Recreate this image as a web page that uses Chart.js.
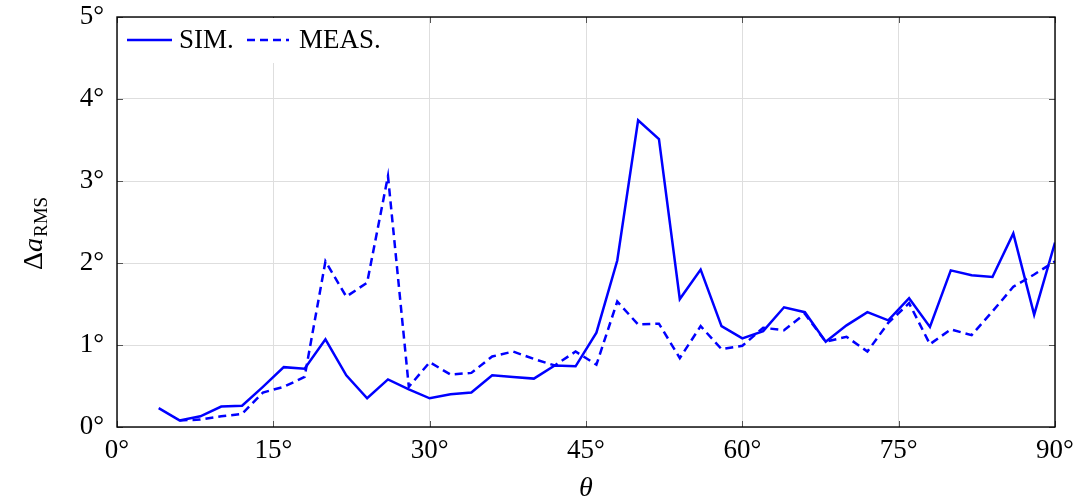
<!DOCTYPE html>
<html>
<head>
<meta charset="utf-8">
<script src="https://cdn.jsdelivr.net/npm/chart.js@4.4.1/dist/chart.umd.min.js"></script>
<style>
  body { margin: 0; background: #fff; }
  canvas { display: block; }
</style>
</head>
<body>
<canvas id="rmsChart" width="1081" height="503"></canvas>
<script>
// --- Data ---
const thetaDeg = [4, 6, 8, 10, 12, 14, 16, 18, 20, 22, 24, 26, 28, 30, 32, 34, 36, 38, 40, 42, 44, 46,
                  48, 50, 52, 54, 56, 58, 60, 62, 64, 66, 68, 70, 72, 74, 76, 78, 80, 82, 84, 86, 88, 90];
const simValues = [0.23, 0.08, 0.13, 0.25, 0.26, 0.49, 0.73, 0.71, 1.07, 0.63, 0.35, 0.58, 0.46, 0.35,
                   0.40, 0.42, 0.63, 0.61, 0.59, 0.75, 0.74, 1.15, 2.03, 3.74, 3.51, 1.56, 1.92, 1.23,
                   1.08, 1.17, 1.46, 1.40, 1.04, 1.24, 1.40, 1.30, 1.57, 1.22, 1.91, 1.85, 1.83, 2.36,
                   1.37, 2.25];
const measValues = [null, 0.08, 0.09, 0.13, 0.16, 0.42, 0.49, 0.61, 2.02, 1.59, 1.76, 3.06, 0.49, 0.79,
                    0.64, 0.66, 0.86, 0.92, 0.83, 0.75, 0.92, 0.76, 1.53, 1.25, 1.26, 0.84, 1.23, 0.95,
                    0.99, 1.21, 1.18, 1.38, 1.04, 1.10, 0.92, 1.27, 1.51, 1.01, 1.19, 1.12, 1.41, 1.71,
                    1.86, 2.02];
const xTicks = [0, 15, 30, 45, 60, 75, 90];
const yTicks = [0, 1, 2, 3, 4, 5];
const seriesLabels = ['SIM.', 'MEAS.'];

const SERIF = '"Liberation Serif", "DejaVu Serif", serif';
const BLUE = '#0000ff';

const toPoints = vals => thetaDeg.map((t, i) => ({ x: t, y: vals[i] }));

// border, inner tick marks, legend and axis titles
const decorPlugin = {
    id: 'decor',
    afterDraw(chart) {
        const { ctx, chartArea: a, scales } = chart;
        ctx.save();

        // inward tick marks
        ctx.strokeStyle = '#555';
        ctx.lineWidth = 1;
        xTicks.forEach(t => {
            const x = Math.round(scales.x.getPixelForValue(t)) + 0.5;
            ctx.beginPath();
            ctx.moveTo(x, a.bottom); ctx.lineTo(x, a.bottom - 6);
            ctx.moveTo(x, a.top); ctx.lineTo(x, a.top + 6);
            ctx.stroke();
        });
        yTicks.forEach(t => {
            const y = Math.round(scales.y.getPixelForValue(t)) + 0.5;
            ctx.beginPath();
            ctx.moveTo(a.left, y); ctx.lineTo(a.left + 6, y);
            ctx.moveTo(a.right, y); ctx.lineTo(a.right - 6, y);
            ctx.stroke();
        });

        // legend (top-left, inside the plot)
        ctx.fillStyle = '#fff';
        ctx.fillRect(a.left + 1, a.top + 1, 302, 45);
        const ly = a.top + 23;
        ctx.strokeStyle = BLUE;
        ctx.lineWidth = 2.5;
        ctx.beginPath();
        ctx.moveTo(a.left + 10, ly); ctx.lineTo(a.left + 55, ly);
        ctx.stroke();
        ctx.setLineDash([8, 5]);
        ctx.beginPath();
        ctx.moveTo(a.left + 130, ly); ctx.lineTo(a.left + 172, ly);
        ctx.stroke();
        ctx.setLineDash([]);
        ctx.fillStyle = '#000';
        ctx.font = '27px ' + SERIF;
        ctx.textBaseline = 'middle';
        ctx.textAlign = 'left';
        ctx.fillText(seriesLabels[0], a.left + 62, ly + 1);
        ctx.fillText(seriesLabels[1], a.left + 182, ly + 1);

        // frame
        ctx.strokeStyle = '#000';
        ctx.lineWidth = 1.4;
        ctx.strokeRect(a.left, a.top, a.right - a.left, a.bottom - a.top);

        // x title
        ctx.font = 'italic 28px ' + SERIF;
        ctx.textAlign = 'center';
        ctx.textBaseline = 'alphabetic';
        ctx.fillText('θ', (a.left + a.right) / 2, 496);

        // y title: Δa with RMS subscript
        ctx.translate(42, 270);
        ctx.rotate(-Math.PI / 2);
        ctx.textAlign = 'left';
        ctx.font = '28px ' + SERIF;
        ctx.fillText('Δ', 0, 0);
        let w = ctx.measureText('Δ').width;
        ctx.font = 'italic 28px ' + SERIF;
        ctx.fillText('a', w, 0);
        w += ctx.measureText('a').width;
        ctx.font = '19px ' + SERIF;
        ctx.fillText('RMS', w + 1, 5);

        ctx.restore();
    }
};

const ctx = document.getElementById('rmsChart').getContext('2d');
new Chart(ctx, {
    type: 'line',
    data: {
        datasets: [{
            label: seriesLabels[0],
            data: toPoints(simValues),
            borderColor: BLUE,
            borderWidth: 2.5,
            pointRadius: 0,
            tension: 0,
            fill: false
        }, {
            label: seriesLabels[1],
            data: toPoints(measValues),
            borderColor: BLUE,
            borderWidth: 2.5,
            borderDash: [8, 5],
            pointRadius: 0,
            tension: 0,
            fill: false,
            spanGaps: false
        }]
    },
    options: {
        responsive: false,
        animation: false,
        events: [],
        layout: { padding: { left: 0, top: 17, right: 26, bottom: 0 } },
        plugins: {
            legend: { display: false },
            tooltip: { enabled: false }
        },
        scales: {
            x: {
                type: 'linear',
                min: 0,
                max: 90,
                afterBuildTicks: s => { s.ticks = xTicks.map(v => ({ value: v })); },
                afterFit: s => { s.height = 76; s.paddingLeft = 0; s.paddingRight = 0; },
                grid: { color: '#dedede', lineWidth: 1, drawTicks: false },
                border: { display: false },
                ticks: {
                    padding: 8,
                    color: '#000',
                    font: { family: SERIF, size: 27 },
                    callback: v => v + '°'
                }
            },
            y: {
                min: 0,
                max: 5,
                afterBuildTicks: s => { s.ticks = yTicks.map(v => ({ value: v })); },
                afterFit: s => { s.width = 117; s.paddingTop = 0; s.paddingBottom = 0; },
                grid: { color: '#dedede', lineWidth: 1, drawTicks: false },
                border: { display: false },
                ticks: {
                    padding: 13,
                    color: '#000',
                    font: { family: SERIF, size: 27 },
                    callback: v => v + '°'
                }
            }
        }
    },
    plugins: [decorPlugin]
});
</script>
</body>
</html>
